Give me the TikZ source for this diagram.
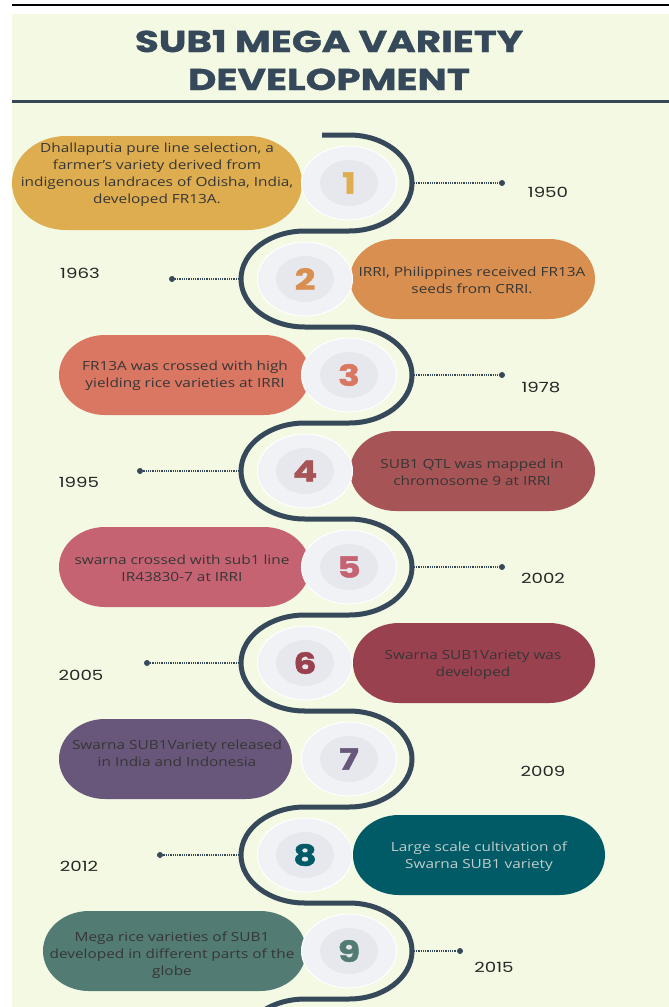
\documentclass[tikz,border=0pt]{standalone}
\usepackage{fontspec}
\setmainfont{Open Sans}[FakeStretch=1.22]
\newfontfamily\titlefont{Poppins}[FakeStretch=1.3, FakeBold=1.3]
\newfontfamily\numfont{Poppins}[FakeStretch=1.25, FakeBold=1.5]
\newfontfamily\yearfont{Poppins}[FakeStretch=1.3]
\usetikzlibrary{shapes.geometric}

\definecolor{slate}{HTML}{36495A}
\definecolor{cream}{HTML}{F3F9E3}
\definecolor{ballout}{HTML}{F1F2F6}
\definecolor{ballin}{HTML}{E6E8EE}
\definecolor{pilltxt}{HTML}{363636}
\definecolor{pilllight}{HTML}{C3CCCC}
\definecolor{c1}{HTML}{DDAD4F}
\definecolor{c2}{HTML}{D98F50}
\definecolor{c3}{HTML}{D97762}
\definecolor{c4}{HTML}{A65456}
\definecolor{c5}{HTML}{C66373}
\definecolor{c6}{HTML}{9A4150}
\definecolor{c7}{HTML}{68577A}
\definecolor{c8}{HTML}{005B66}
\definecolor{c9}{HTML}{527B73}

\tikzset{
  road/.style={draw=slate, line width=5pt},
  ball/.style={ellipse, minimum width=95pt, minimum height=74pt, inner sep=0pt, fill=ballout,
    draw=white, line width=1pt,
    font=\numfont\bfseries\fontsize{29}{29}\selectfont,
    path picture={\fill[ballin] (path picture bounding box.center) ellipse[x radius=29, y radius=23];}},
  pilltext/.style={align=center, font=\fontsize{12.6}{17}\selectfont},
  yr/.style={font=\yearfont\fontsize{14}{14}\selectfont, text=black!85},
  dotline/.style={draw=slate, line width=1.2pt, dash pattern=on 1pt off 0.8pt},
  yeardot/.style={circle, fill=slate, inner sep=0pt, minimum size=6pt},
}

\begin{document}
\begin{tikzpicture}[x=1pt, y=-1pt]
  \useasboundingbox (0,0) rectangle (669,1007);
  \fill[white] (0,0) rectangle (669,1007);
  \fill[cream] (12,14) rectangle (669,1007);
  \draw[black, line width=1.3pt] (12,5) -- (669,5);
  % title
  \node[anchor=base, text=slate, font=\titlefont\bfseries\fontsize{30}{30}\selectfont] (title1) at (329,52) {SUB1 MEGA VARIETY};
  \node[anchor=base, text=slate, font=\titlefont\bfseries\fontsize{30}{30}\selectfont] (title2) at (329,90) {DEVELOPMENT};
  \draw[slate, line width=3pt] (12,101) -- (669,101);
  % the winding road
  \draw[road] (322,135) -- (349,135)
    \foreach \k in {1,...,4}{
      arc[start angle=-90, end angle=90, x radius=63, y radius=48] -- ++(-44,0)
      arc[start angle=270, end angle=90, x radius=64, y radius=48] -- ++(44,0)}
    arc[start angle=-90, end angle=90, x radius=63, y radius=48] -- ++(-44,0)
    arc[start angle=270, end angle=215, x radius=64, y radius=48];
  % steps
  \foreach \n/\cx/\L/\R/\h/\tx/\ty/\tc/\txt in {
    1/349/12/302/47/157/175/pilltxt/{Dhallaputia pure line selection, a\\farmer's variety derived from\\indigenous landraces of Odisha, India,\\developed FR13A.},
    2/305/350/595/40/472/280/pilltxt/{IRRI, Philippines received FR13A\\seeds from CRRI.},
    3/349/59/310/40/185/376/pilltxt/{FR13A was crossed with high\\yielding rice varieties at IRRI},
    4/305/350/595/40/472/472/pilltxt/{SUB1 QTL was mapped in\\chromosome 9 at IRRI},
    5/349/59/310/40/182/568/pilltxt/{swarna crossed with sub1 line\\IR43830-7 at IRRI},
    6/305/353/595/40/473/665/pilltxt/{Swarna SUB1Variety was\\developed},
    7/349/59/292/40/177/753/pilltxt/{Swarna SUB1Variety released\\in India and Indonesia},
    8/305/353/605/40/479/857/pilllight/{Large scale cultivation of\\Swarna SUB1 variety},
    9/349/43/306/40/172/955/pilltxt/{Mega rice varieties of SUB1\\developed in different parts of the\\globe}}
  {
    \pgfmathsetmacro\cy{183+96*(\n-1)}
    \pgfmathsetmacro\rx{1.15*\h}
    \pgfmathsetmacro\a{\L+\rx}
    \pgfmathsetmacro\b{\R-\rx}
    \fill[c\n] (\a,{\cy-\h}) -- (\b,{\cy-\h})
      arc[start angle=-90, end angle=90, x radius=\rx, y radius=\h] -- (\a,{\cy+\h})
      arc[start angle=90, end angle=270, x radius=\rx, y radius=\h] -- cycle;
    \node[pilltext, text=\tc] (t\n) at (\tx,\ty) {\txt};
    \node[ball, text=c\n] (b\n) at (\cx,\cy) {\n};
  }
  % years
  \foreach \n/\dx/\yx/\yy/\yyyy in {1/502/548/192/1950, 2/172/80/273/1963, 3/502/541/387/1978,
      4/140/79/482/1995, 5/502/543/578/2002, 6/147/81/675/2005, 8/160/79/866/2012, 9/460/494/967/2015}
  {
    \pgfmathsetmacro\cy{183+96*(\n-1)}
    \ifodd\n \def\ex{414}\else\def\ex{239}\fi
    \coordinate (e\n) at (\ex,\cy);
    \node[yeardot] (d\n) at (\dx,\cy) {};
    \draw[dotline] (e\n) -- (d\n);
    \node[yr] (y\n) at (\yx,\yy) {\yyyy};
  }
  \node[yr] (y7) at (543,771) {2009};
\end{tikzpicture}
\end{document}
